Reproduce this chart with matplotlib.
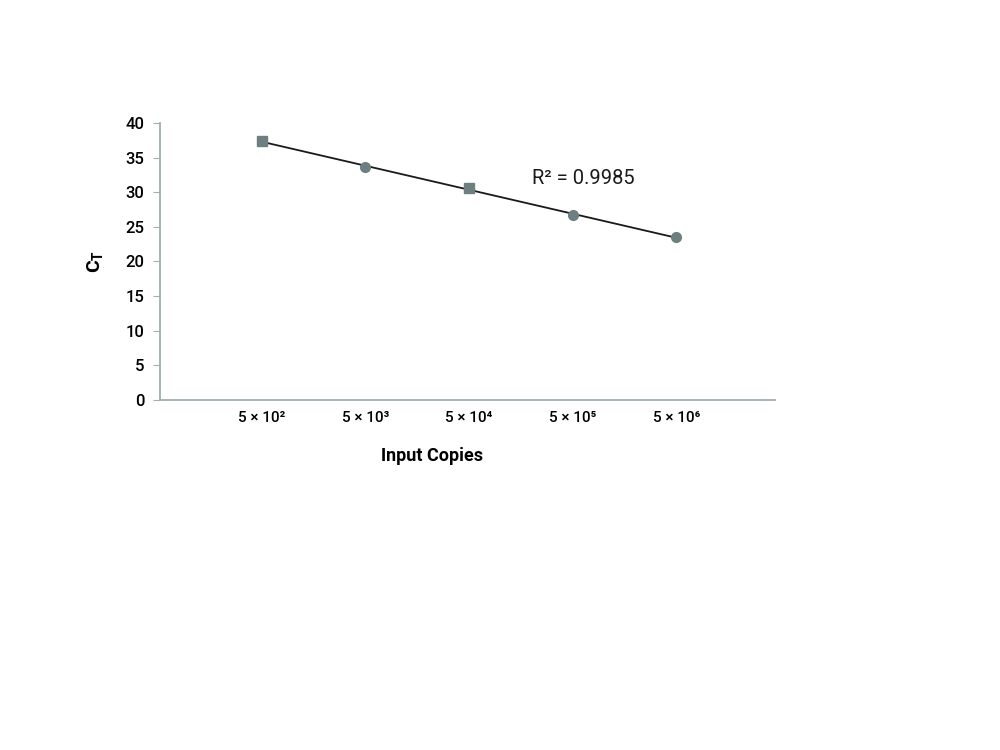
import matplotlib
matplotlib.use("Agg")
import matplotlib.pyplot as plt
import numpy as np

plt.rcParams['font.family'] = ['Roboto', 'DejaVu Sans']

categories = ["5 × 10²", "5 × 10³", "5 × 10⁴", "5 × 10⁵", "5 × 10⁶"]
ct_values = [37.4, 33.6, 30.6, 26.7, 23.5]
ct_errors = [0.2, 0.15, 0.5, 0.15, 0.15]
markers = ["s", "o", "s", "o", "o"]
r2_text = "R² = 0.9985"

fig = plt.figure(figsize=(10, 7.5), dpi=100)
ax = fig.add_axes([0.16, 0.4667, 0.615, 0.3693])

x = np.arange(1, len(categories) + 1)
slope, intercept = np.polyfit(x, ct_values, 1)
ax.plot([x[0], x[-1]], [slope * x[0] + intercept, slope * x[-1] + intercept],
        color="#1a1a1a", lw=1.3, zorder=2)
pt_color = "#6d7f80"
for xi, yi, ei, m in zip(x, ct_values, ct_errors, markers):
    ax.errorbar(xi, yi, yerr=ei, fmt=m, color=pt_color, ms=7, capsize=3,
                elinewidth=1, zorder=3)

ax.set_xlim(0.02, 5.95)
ax.set_ylim(0, 40)
ax.set_yticks(range(0, 41, 5))
ax.set_xticks(x)
ax.set_xticklabels(categories, fontsize=11, fontweight="medium")
for lbl in ax.get_yticklabels():
    lbl.set_fontweight("medium")
ax.tick_params(axis='x', length=0, pad=8)
ax.tick_params(axis='y', length=5, color="#9fb0ae", labelsize=12, pad=6)

axis_color = "#9fb0ae"
for s in ["top", "right"]:
    ax.spines[s].set_visible(False)
ax.spines["left"].set_color(axis_color)
ax.spines["bottom"].set_color(axis_color)
ax.spines["left"].set_linewidth(1.3)
ax.spines["bottom"].set_linewidth(1.3)

ax.set_xlabel("Input Copies", fontsize=13, fontweight="bold")
ax.xaxis.set_label_coords(0.442, -0.17)
ax.set_ylabel("C$_\\mathregular{T}$", fontsize=14, fontweight="bold", labelpad=14)

ax.text(3.61, 32.0, r2_text, fontsize=14.5, color="#1a1a1a", va="center")

fig.savefig("out.png", dpi=100)
